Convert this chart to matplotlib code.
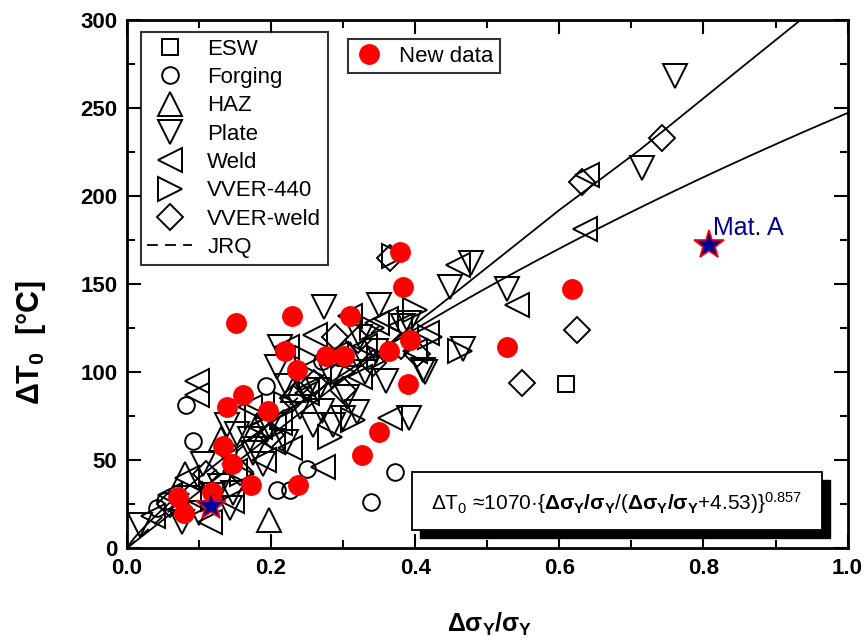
import numpy as np
import matplotlib
matplotlib.use("Agg")
import matplotlib.pyplot as plt
from matplotlib.lines import Line2D
from matplotlib.patches import Rectangle

plt.rcParams["font.family"] = ["Liberation Sans", "DejaVu Sans"]
plt.rcParams["mathtext.fontset"] = "custom"
plt.rcParams["mathtext.rm"] = "Liberation Sans"
plt.rcParams["mathtext.it"] = "Liberation Sans:italic"
plt.rcParams["mathtext.bf"] = "Liberation Sans:bold"

# data: (dsigma/sigma, dT0)
esw_x = [0.609, 0.21]
esw_y = [93, 72]

forging_x = [0.082, 0.092, 0.041, 0.053, 0.208, 0.226, 0.250, 0.338, 0.372, 0.193, 0.14, 0.27]
forging_y = [81, 61, 23, 27, 33, 33, 45, 26, 43, 92, 55, 106]

haz_x = [0.197, 0.13, 0.23, 0.31, 0.18, 0.08]
haz_y = [16, 62, 90, 110, 70, 42]

plate_x = [0.760, 0.715, 0.448, 0.528, 0.478, 0.273, 0.323, 0.413, 0.284, 0.305,
           0.265, 0.250, 0.222, 0.392, 0.319, 0.383, 0.411, 0.018, 0.076, 0.143,
           0.139, 0.153, 0.105, 0.129, 0.175, 0.189, 0.194, 0.147, 0.208, 0.212,
           0.258, 0.286, 0.300, 0.466, 0.345, 0.36, 0.33, 0.24, 0.27, 0.17,
           0.22, 0.12, 0.10, 0.35, 0.392]
plate_y = [268, 216, 148, 147, 162, 137, 120, 100, 97, 86,
           90, 90, 92, 74, 77, 126, 101, 13, 15, 23,
           70, 65, 48, 35, 54, 48, 67, 31, 103, 114,
           70, 70, 74, 113, 112, 95, 100, 80, 78, 62,
           60, 30, 20, 138, 128]

weld_x = [0.459, 0.541, 0.635, 0.639, 0.309, 0.261, 0.347, 0.379, 0.416, 0.323,
          0.365, 0.360, 0.036, 0.115, 0.146, 0.083, 0.202, 0.212, 0.184, 0.097,
          0.097, 0.226, 0.272, 0.222, 0.29, 0.33, 0.25, 0.19, 0.15, 0.06,
          0.40, 0.17]
weld_y = [161, 138, 181, 212, 132, 121, 128, 126, 122, 97,
          74, 130, 18, 15, 27, 40, 60, 71, 69, 95,
          87, 57, 46, 114, 110, 115, 88, 50, 44, 30,
          112, 80]

vver440_x = [0.462, 0.313, 0.282, 0.37, 0.40, 0.35, 0.30, 0.255, 0.22, 0.18,
             0.16, 0.12, 0.09, 0.25, 0.34, 0.42]
vver440_y = [112, 73, 63, 166, 135, 108, 100, 98, 82, 75,
             42, 28, 22, 108, 125, 120]

vverweld_x = [0.632, 0.624, 0.548, 0.743, 0.288, 0.402, 0.341, 0.157, 0.365, 0.32,
              0.26, 0.38, 0.23, 0.20, 0.30, 0.11, 0.06]
vverweld_y = [208, 124, 94, 233, 120, 110, 105, 43, 165, 118,
              94, 115, 85, 64, 90, 42, 25]

new_x = [0.379, 0.383, 0.151, 0.229, 0.309, 0.219, 0.236, 0.276, 0.301, 0.363,
         0.393, 0.390, 0.161, 0.139, 0.196, 0.133, 0.146, 0.172, 0.118, 0.071,
         0.079, 0.237, 0.326, 0.350, 0.528, 0.617]
new_y = [168, 148, 128, 132, 132, 112, 101, 109, 109, 112,
         118, 93, 87, 80, 78, 58, 48, 36, 32, 29,
         20, 36, 53, 66, 114, 147]

star_x = [0.117, 0.807]
star_y = [24, 172]

# upper trend line
upper_x = [0.0, 0.2, 0.434, 0.6, 0.711, 0.85, 0.935]
upper_y = [0, 64, 138, 192, 226, 272, 300]

# JRQ dashed line
jrq_x = [0.0, 0.1, 0.2, 0.3, 0.35]
jrq_y = [0, 36, 72, 108, 126]

# fit curve printed on the chart
fit_x = np.linspace(0, 1, 200)
fit_y = 1070 * (fit_x / (fit_x + 4.53)) ** 0.857

fig = plt.figure(figsize=(8.64, 6.41), dpi=100)
ax = fig.add_axes([0.147, 0.145, 0.834, 0.824])

mk = dict(linestyle="none", mfc="none", mec="black", mew=1.4)
ax.plot(esw_x, esw_y, marker="s", ms=11, **mk)
ax.plot(forging_x, forging_y, marker="o", ms=12, **mk)
ax.plot(haz_x, haz_y, marker="^", ms=17, **mk)
ax.plot(plate_x, plate_y, marker="v", ms=17, **mk)
ax.plot(weld_x, weld_y, marker="<", ms=17, **mk)
ax.plot(vver440_x, vver440_y, marker=">", ms=17, **mk)
ax.plot(vverweld_x, vverweld_y, marker="D", ms=13, **mk)

ax.plot(fit_x, fit_y, color="black", lw=1.3)
ax.plot(upper_x, upper_y, color="black", lw=1.3)
ax.plot(jrq_x, jrq_y, color="black", lw=1.3, ls=(0, (6, 4)))

ax.plot(new_x, new_y, linestyle="none", marker="o", ms=14, mfc="red", mec="red", zorder=4)
ax.plot(star_x, star_y, linestyle="none", marker="*", ms=22, mfc="#000099", mec="red",
        mew=1.2, zorder=5)
ax.text(0.813, 178, "Mat. A", color="#000099", fontsize=18, zorder=6)

ax.set_xlim(0, 1)
ax.set_ylim(0, 300)
ax.set_xticks(np.arange(0, 1.01, 0.2))
ax.set_xticks(np.arange(0.1, 1.0, 0.2), minor=True)
ax.set_yticks(np.arange(0, 301, 50))
ax.set_yticks(np.arange(25, 300, 50), minor=True)
ax.xaxis.set_major_formatter(matplotlib.ticker.FormatStrFormatter("%.1f"))
ax.tick_params(which="both", direction="in", top=True, right=True, width=1.5, pad=7)
ax.tick_params(which="major", length=10)
ax.tick_params(which="minor", length=6)
for lab in ax.get_xticklabels() + ax.get_yticklabels():
    lab.set_fontweight("bold")
    lab.set_fontsize(16)
    lab.set_family(["Liberation Sans Narrow", "Liberation Sans"])
for s in ax.spines.values():
    s.set_linewidth(2)

ax.set_ylabel(r"$\mathbf{\Delta T_0}$  [°C]", fontsize=22, fontweight="bold")
ax.yaxis.set_label_coords(-0.11, 0.39)
ax.set_xlabel(r"$\mathbf{Δσ_Y/σ_Y}$", fontsize=18)
ax.xaxis.set_label_coords(0.503, -0.118)

handles = [
    Line2D([], [], marker="s", ms=11, **mk),
    Line2D([], [], marker="o", ms=12, **mk),
    Line2D([], [], marker="^", ms=17, **mk),
    Line2D([], [], marker="v", ms=17, **mk),
    Line2D([], [], marker="<", ms=17, **mk),
    Line2D([], [], marker=">", ms=17, **mk),
    Line2D([], [], marker="D", ms=13, **mk),
    Line2D([], [], color="black", lw=1.3, ls=(0, (6, 4))),
]
labels = ["ESW", "Forging", "HAZ", "Plate", "Weld", "VVER-440", "VVER-weld", "JRQ"]
leg = ax.legend(handles, labels, loc="upper left", bbox_to_anchor=(0.019, 0.977),
                borderaxespad=0, fontsize=16, frameon=True, fancybox=False,
                edgecolor="black", handlelength=2.0, labelspacing=0.33,
                handletextpad=0.7, borderpad=0.3)
leg.get_frame().set_linewidth(1.5)
ax.add_artist(leg)

h_new = Line2D([], [], linestyle="none", marker="o", ms=14, mfc="red", mec="red")
leg2 = ax.legend([h_new], ["New data"], loc="upper left", bbox_to_anchor=(0.306, 0.964),
                 borderaxespad=0, fontsize=16, frameon=True, fancybox=False,
                 edgecolor="black", handlelength=1.3, handletextpad=0.7, borderpad=0.3)
leg2.get_frame().set_linewidth(1.5)

# equation box with drop shadow
ax.add_patch(Rectangle((0.406, 0.019), 0.569, 0.110, transform=ax.transAxes,
                       facecolor="black", edgecolor="black", zorder=7))
ax.add_patch(Rectangle((0.395, 0.034), 0.569, 0.110, transform=ax.transAxes,
                       facecolor="white", edgecolor="black", lw=1.3, zorder=8))
ax.text(0.68, 0.086,
        r"$\Delta$T$_0$ ≈1070·{$\mathbf{Δσ_Y/σ_Y}$/($\mathbf{Δσ_Y/σ_Y}$+4.53)}$^{0.857}$",
        transform=ax.transAxes, ha="center", va="center", fontsize=15, zorder=9)

fig.savefig("out.png", dpi=100)
